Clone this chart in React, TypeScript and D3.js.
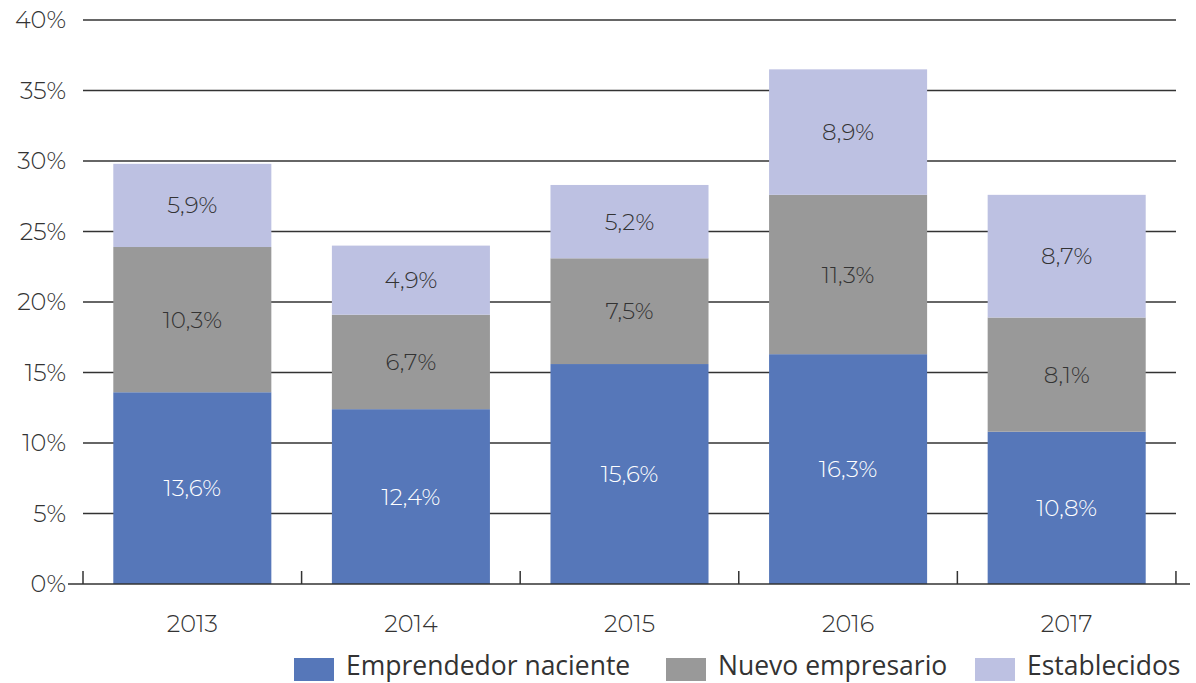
import React from "react";
import * as d3 from "d3";

const years = ["2013", "2014", "2015", "2016", "2017"];
const emprendedor = [13.6, 12.4, 15.6, 16.3, 10.8];
const nuevo = [10.3, 6.7, 7.5, 11.3, 8.1];
const establecidos = [5.9, 4.9, 5.2, 8.9, 8.7];
const seriesNames = ["Emprendedor naciente", "Nuevo empresario", "Establecidos"];
const seriesColors = ["#5677B9", "#999999", "#BDC1E2"];
const labelColors = ["#ffffff", "#333333", "#333333"];
const yTicks = [0, 5, 10, 15, 20, 25, 30, 35, 40];

const W = 1196;
const H = 683;
const left = 83;
const right = 1176;
const top = 20;
const bottom = 584;
const font = "Montserrat, 'DejaVu Sans', sans-serif";

export default function App() {
  const x = d3.scaleBand<string>().domain(years).range([left, right]).paddingInner(0.277).paddingOuter(0.1386);
  const y = d3.scaleLinear().domain([0, 40]).range([bottom, top]);
  const data = years.map((yr, i) => ({ year: yr, e: emprendedor[i], n: nuevo[i], s: establecidos[i] }));
  const stack = d3.stack<any>().keys(["e", "n", "s"])(data);
  const step = x.step();
  const boundaries = d3.range(years.length + 1).map((i) => left + i * step);
  const values = [emprendedor, nuevo, establecidos];

  const legendItems = [
    { sq: 294, tx: 346 },
    { sq: 666, tx: 718 },
    { sq: 975, tx: 1027 },
  ];

  return (
    <svg width={W} height={H} style={{ position: "absolute", left: 0, top: 0, background: "#fff" }}>
      {yTicks.filter((t) => t > 0).map((t) => (
        <line key={t} x1={left} x2={right} y1={y(t)} y2={y(t)} stroke="#333" strokeWidth={1.5} />
      ))}
      {yTicks.map((t) => (
        <text key={"l" + t} x={66} y={y(t)} dy="0.35em" textAnchor="end" fontFamily={font} fontSize={24} fontWeight={300} fill="#333">
          {t}%
        </text>
      ))}
      {stack.map((layer, si) =>
        layer.map((d, i) => (
          <rect key={si + "-" + i} x={x(years[i])} width={x.bandwidth()} y={y(d[1])} height={y(d[0]) - y(d[1])} fill={seriesColors[si]} />
        ))
      )}
      {stack.map((layer, si) =>
        layer.map((d, i) => (
          <text
            key={"t" + si + "-" + i}
            x={(x(years[i]) as number) + x.bandwidth() / 2}
            y={(y(d[0]) + y(d[1])) / 2}
            dy="0.35em"
            textAnchor="middle"
            fontFamily={font}
            fontSize={23}
            fontWeight={300}
            fill={labelColors[si]}
          >
            {String(values[si][i]).replace(".", ",")}%
          </text>
        ))
      )}
      <line x1={68} x2={1190} y1={bottom} y2={bottom} stroke="#333" strokeWidth={1.5} />
      {boundaries.map((b, i) => (
        <line key={"b" + i} x1={b} x2={b} y1={bottom} y2={bottom - 13} stroke="#333" strokeWidth={1.5} />
      ))}
      {years.map((yr) => (
        <text key={"x" + yr} x={(x(yr) as number) + x.bandwidth() / 2} y={624} dy="0.35em" textAnchor="middle" fontFamily={font} fontSize={24} fontWeight={300} fill="#333">
          {yr}
        </text>
      ))}
      {seriesNames.map((n, i) => (
        <g key={"lg" + i}>
          <rect x={legendItems[i].sq} y={658} width={40} height={23} fill={seriesColors[i]} />
          <text x={legendItems[i].tx} y={675} fontFamily="'Liberation Sans Narrow', 'Open Sans', sans-serif" fontSize={26.5} fill="#333">
            {n}
          </text>
        </g>
      ))}
    </svg>
  );
}
